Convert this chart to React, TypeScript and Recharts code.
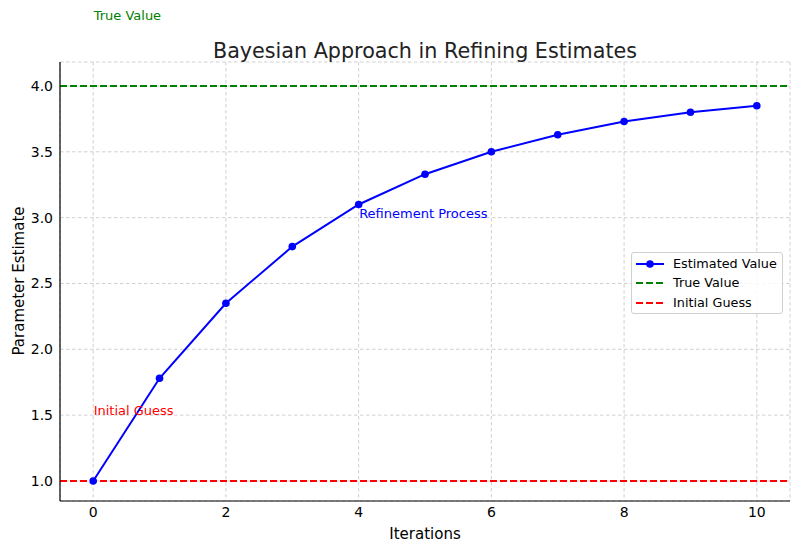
import {
  LineChart,
  Line,
  XAxis,
  YAxis,
  CartesianGrid,
  ReferenceLine,
  ReferenceDot,
  Legend,
  Customized,
} from 'recharts';

const iterations = [0, 1, 2, 3, 4, 5, 6, 7, 8, 9, 10];
const estimates = [1.0, 1.78, 2.35, 2.78, 3.1, 3.33, 3.5, 3.63, 3.73, 3.8, 3.85];
const trueValue = 4.0;
const initialGuess = 1.0;
const xTicks = [0, 2, 4, 6, 8, 10];
const yTicks = [1.0, 1.5, 2.0, 2.5, 3.0, 3.5, 4.0];

const notes = [
  { x: 0, y: 4.5, text: 'True Value', color: '#008000' },
  { x: 0, y: 1.5, text: 'Initial Guess', color: '#ff0000' },
  { x: 4, y: 3.0, text: 'Refinement Process', color: '#0000ff' },
];

const data = iterations.map((it, i) => ({ it, est: estimates[i] }));

const FONT = '"DejaVu Sans", sans-serif';

const legendItems = [
  { name: 'Estimated Value', color: '#0000ff', dashed: false },
  { name: 'True Value', color: '#008000', dashed: true },
  { name: 'Initial Guess', color: '#ff0000', dashed: true },
];

function LegendBox() {
  return (
    <div
      style={{
        width: 152,
        height: 62,
        border: '1px solid #d0d0d0',
        borderRadius: 3,
        background: 'rgba(255,255,255,0.85)',
        fontFamily: FONT,
        fontSize: 12.8,
        color: '#000',
        boxSizing: 'border-box',
        paddingTop: 1,
      }}
    >
      {legendItems.map((item) => (
        <div key={item.name} style={{ display: 'flex', alignItems: 'center', height: 19.5 }}>
          <svg width={38} height={12} style={{ marginLeft: 3 }}>
            <line
              x1={1}
              y1={6}
              x2={29}
              y2={6}
              stroke={item.color}
              strokeWidth={2}
              strokeDasharray={item.dashed ? '7 3' : undefined}
            />
            {!item.dashed && <circle cx={15} cy={6} r={3.8} fill={item.color} />}
          </svg>
          <span style={{ lineHeight: '14px' }}>{item.name}</span>
        </div>
      ))}
    </div>
  );
}

function Texts() {
  return (
    <g fontFamily={FONT} fill="#000">
      <text x={425} y={58} textAnchor="middle" fontSize={20.7} fill="#222">
        Bayesian Approach in Refining Estimates
      </text>
      <text x={425} y={539} textAnchor="middle" fontSize={15} fill="#000">
        Iterations
      </text>
      <text
        x={23.5}
        y={281}
        textAnchor="middle"
        fontSize={15}
        fill="#000"
        transform="rotate(-90 23.5 281)"
      >
        Parameter Estimate
      </text>
    </g>
  );
}

export default function App() {
  return (
    <div style={{ position: 'fixed', left: 0, top: 0, width: 800, height: 552, background: '#fff' }}>
      <LineChart
        width={800}
        height={552}
        data={data}
        margin={{ top: 62, right: 10, left: 0, bottom: 0 }}
      >
        <CartesianGrid stroke="#c4c4c4" strokeDasharray="3.5 2.5" strokeWidth={0.8} />
        <XAxis
          dataKey="it"
          type="number"
          domain={[-0.5, 10.5]}
          ticks={xTicks}
          allowDataOverflow
          height={51}
          tickLine={false}
          tickSize={6}
          tickMargin={0}
          axisLine={{ stroke: '#000', strokeWidth: 1.2 }}
          tick={{ fill: '#000', fontSize: 14, fontFamily: FONT }}
        />
        <YAxis
          type="number"
          domain={[0.848, 4.182]}
          ticks={yTicks}
          allowDataOverflow
          width={60}
          tickLine={false}
          tickSize={6}
          tickMargin={1}
          tickFormatter={(v: number) => v.toFixed(1)}
          axisLine={{ stroke: '#000', strokeWidth: 1.2 }}
          tick={{ fill: '#000', fontSize: 14, fontFamily: FONT }}
        />
        <Line
          dataKey="est"
          stroke="#0000ff"
          strokeWidth={2}
          dot={{ r: 3.8, fill: '#0000ff', stroke: '#0000ff', strokeWidth: 0 }}
          activeDot={false}
          isAnimationActive={false}
          type="linear"
        />
        <ReferenceLine y={trueValue} stroke="#008000" strokeWidth={2} strokeDasharray="7 3" />
        <ReferenceLine y={initialGuess} stroke="#ff0000" strokeWidth={2} strokeDasharray="7 3" />
        {notes.map((n) => (
          <ReferenceDot
            key={n.text}
            x={n.x}
            y={n.y}
            r={0}
            fillOpacity={0}
            strokeOpacity={0}
            ifOverflow="visible"
            label={(props: any) => {
              const vb = props.viewBox || {};
              return (
                <text x={vb.x + 0.5} y={vb.y} fill={n.color} fontSize={13} fontFamily={FONT}>
                  {n.text}
                </text>
              );
            }}
          />
        ))}
        <Legend
          layout="horizontal"
          verticalAlign="middle"
          align="center"
          wrapperStyle={{ left: 631, top: 252, width: 152, height: 62 }}
          content={() => <LegendBox />}
        />
        <Customized component={Texts} />
      </LineChart>
    </div>
  );
}
